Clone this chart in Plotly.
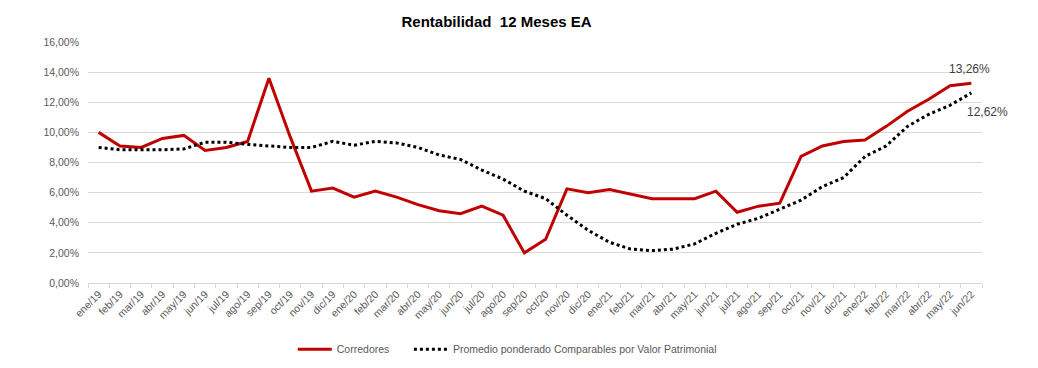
import plotly.graph_objects as go

months = ["ene/19","feb/19","mar/19","abr/19","may/19","jun/19","jul/19","ago/19","sep/19","oct/19","nov/19","dic/19",
          "ene/20","feb/20","mar/20","abr/20","may/20","jun/20","jul/20","ago/20","sep/20","oct/20","nov/20","dic/20",
          "ene/21","feb/21","mar/21","abr/21","may/21","jun/21","jul/21","ago/21","sep/21","oct/21","nov/21","dic/21",
          "ene/22","feb/22","mar/22","abr/22","may/22","jun/22"]

corredores = [10.0, 9.1, 9.0, 9.6, 9.8, 8.8, 9.0, 9.4, 13.6, 9.7, 6.1, 6.3,
              5.7, 6.1, 5.7, 5.2, 4.8, 4.6, 5.1, 4.5, 2.0, 2.9, 6.25, 6.0,
              6.2, 5.9, 5.6, 5.6, 5.6, 6.1, 4.7, 5.1, 5.3, 8.4, 9.1, 9.4,
              9.5, 10.4, 11.4, 12.2, 13.1, 13.26]

promedio = [9.0, 8.85, 8.85, 8.85, 8.9, 9.35, 9.35, 9.2, 9.1, 9.0, 9.0, 9.4,
            9.15, 9.4, 9.3, 9.0, 8.5, 8.2, 7.5, 6.9, 6.1, 5.6, 4.5, 3.5,
            2.7, 2.25, 2.15, 2.25, 2.6, 3.3, 3.9, 4.3, 4.9, 5.5, 6.4, 7.0,
            8.4, 9.1, 10.4, 11.2, 11.8, 12.62]

ytick_vals = [0, 2, 4, 6, 8, 10, 12, 14, 16]
ytick_text = ["0,00%", "2,00%", "4,00%", "6,00%", "8,00%", "10,00%", "12,00%", "14,00%", "16,00%"]

FONT = "Liberation Sans"
GRAY = "#595959"

fig = go.Figure()
fig.add_trace(go.Scatter(x=months, y=corredores, mode="lines", name="Corredores&nbsp;&nbsp;&nbsp;&nbsp;&nbsp;",
                         line=dict(color="#C00000", width=3)))
fig.add_trace(go.Scatter(x=months, y=promedio, mode="lines",
                         name="Promedio ponderado Comparables por Valor Patrimonial",
                         line=dict(color="black", width=3, dash="dot")))

fig.add_annotation(x=months[-1], y=corredores[-1], text="13,26%", showarrow=False,
                   xanchor="center", yanchor="bottom", yshift=5, xshift=-2,
                   font=dict(family=FONT, size=12, color="#404040"))
fig.add_annotation(x=months[-1], y=promedio[-1], text="12,62%", showarrow=False,
                   xanchor="left", yanchor="top", yshift=-10, xshift=-6,
                   font=dict(family=FONT, size=12, color="#404040"))

fig.update_layout(
    width=1038, height=368,
    margin=dict(l=80, r=64, t=34, b=93, autoexpand=False),
    paper_bgcolor="white", plot_bgcolor="white",
    font=dict(family=FONT, size=10, color=GRAY),
    title=dict(text="<b>Rentabilidad  12 Meses EA</b>", x=0.457, xref="paper", xanchor="center",
               y=0.962, yref="container", yanchor="middle",
               font=dict(family=FONT, size=15, color="black")),
    showlegend=True,
    legend=dict(orientation="h", x=0.469, xanchor="center", y=0.073, yref="container",
                yanchor="middle",
                font=dict(family=FONT, size=10.5, color=GRAY), itemwidth=34,
                traceorder="normal"),
)
fig.update_xaxes(type="category", tickangle=-45, showgrid=False, showline=True,
                 linecolor="#d9d9d9", linewidth=1, ticks="outside", tickson="boundaries",
                 ticklen=4, tickcolor="#d9d9d9", tickfont=dict(size=10.5, color=GRAY),
                 range=[-0.5, len(months) - 0.5], automargin=False)
fig.update_yaxes(range=[0, 16], tickvals=ytick_vals, ticktext=ytick_text, showgrid=True,
                 gridcolor="#d9d9d9", gridwidth=1, zeroline=False, showline=False,
                 tickfont=dict(size=10.5, color=GRAY), ticks="", ticklabelstandoff=8,
                 automargin=False)

fig.write_html("out.html")
